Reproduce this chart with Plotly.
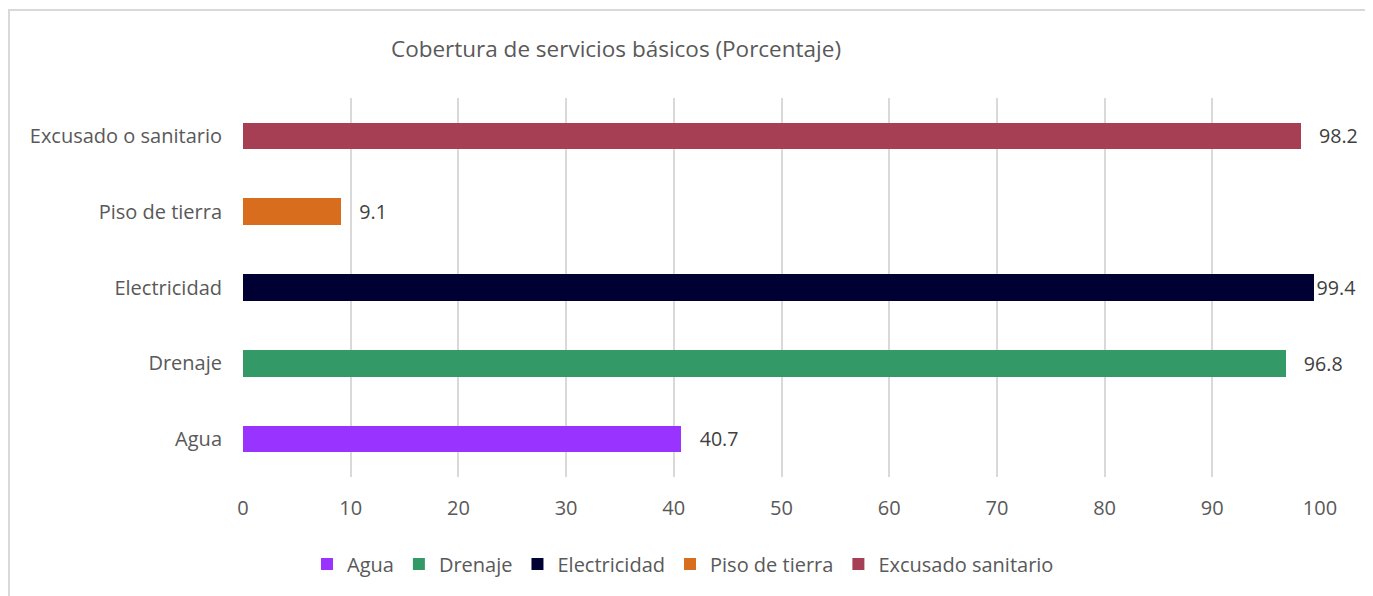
import plotly.graph_objects as go

categories = ["Agua", "Drenaje", "Electricidad", "Piso de tierra", "Excusado o sanitario"]
legend_names = ["Agua", "Drenaje", "Electricidad", "Piso de tierra", "Excusado sanitario"]
values = [40.7, 96.8, 99.4, 9.1, 98.2]
colors = ["#9933FF", "#339966", "#000033", "#D86D1E", "#A63F54"]
x_ticks = [0, 10, 20, 30, 40, 50, 60, 70, 80, 90, 100]

FONT = "Open Sans"

# page body has an 8px margin, so positions below are shifted by -8
W, H = 1373, 596
L, R, T, B = 235, 61, 90, 127
pw, ph = W - L - R, H - T - B

fig = go.Figure()
for cat, name, val, col in zip(categories, legend_names, values, colors):
    # Excel pulls the label in when it would run past the plot edge
    pad = "" if val > 99 else "   "
    fig.add_trace(go.Bar(
        y=[cat], x=[val], name=name, orientation="h",
        marker=dict(color=col, line=dict(width=0)),
        text=[pad + f"{val:.1f}"], textposition="outside",
        textfont=dict(family=FONT, size=20, color="#404040"),
        cliponaxis=False,
    ))

fig.update_layout(
    width=W, height=H,
    barmode="stack", bargap=0.65,
    paper_bgcolor="white", plot_bgcolor="white",
    margin=dict(l=L, r=R, t=T, b=B),
    font=dict(family=FONT, size=20, color="#595959"),
    title=dict(text="Cobertura de servicios básicos (Porcentaje)",
               x=608 / W, xanchor="center", xref="container",
               y=1 - 41 / H, yanchor="middle", yref="container",
               font=dict(family=FONT, size=22.5, color="#595959")),
    xaxis=dict(range=[0, 100], tickvals=x_ticks, showgrid=True,
               gridcolor="#D9D9D9", gridwidth=1.5, zeroline=False,
               showline=False, ticks="", ticklabelstandoff=17,
               tickfont=dict(size=20, color="#595959")),
    yaxis=dict(categoryorder="array", categoryarray=categories,
               range=[-0.5, 4.5], showgrid=False, showline=False,
               ticks="", ticklabelstandoff=20,
               tickfont=dict(size=20, color="#595959")),
    legend=dict(orientation="h", x=(675 - L) / pw, xanchor="center",
                y=-(556 - (T + ph)) / ph, yanchor="middle",
                font=dict(size=20, color="#595959"),
                traceorder="normal", itemwidth=30),
    shapes=[dict(type="rect", xref="paper", yref="paper",
                 x0=(1 - L) / pw, x1=(1358 - L) / pw,
                 y0=-(700 - (T + ph)) / ph, y1=(T + ph - 2) / ph,
                 line=dict(color="#D9D9D9", width=2), layer="below")],
    showlegend=True,
)

fig.write_html("out.html")
